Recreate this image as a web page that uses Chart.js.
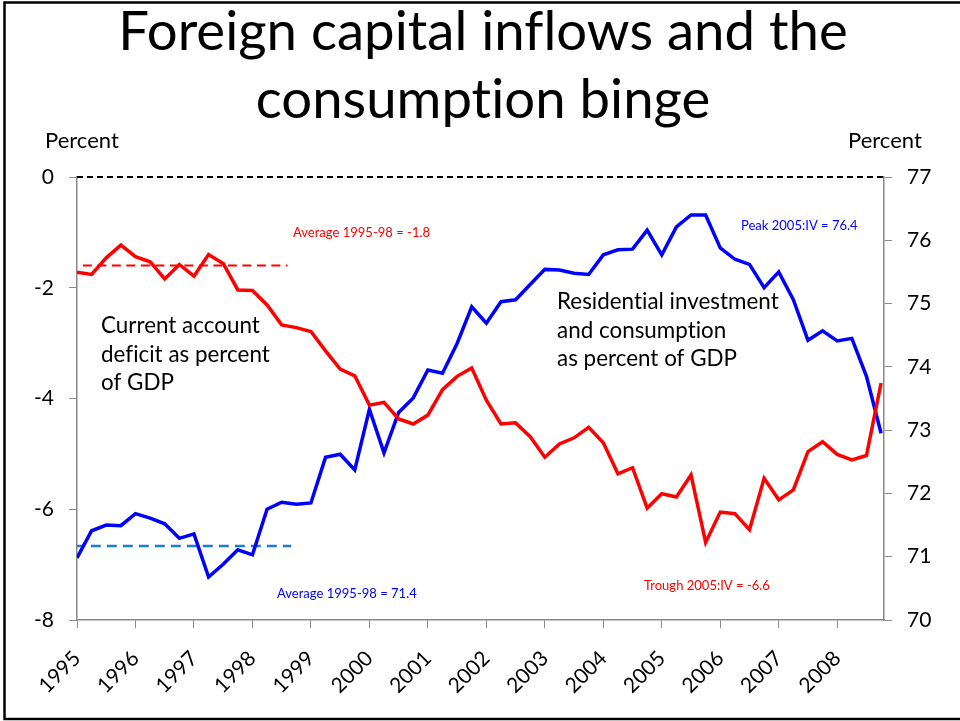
<!DOCTYPE html>
<html lang="en">
<head>
<meta charset="UTF-8">
<title>Foreign capital inflows and the consumption binge</title>
<script src="https://cdn.jsdelivr.net/npm/chart.js"></script>
<style>
  body { margin: 0; background: #fff; }
  #wrap { width: 960px; height: 721px; }
</style>
</head>
<body>
<div id="wrap"><canvas id="myChart" width="960" height="721"></canvas></div>
<script>
// quarterly data, 1995:I .. 2008:IV
const yearTicks = [1995, 1996, 1997, 1998, 1999, 2000, 2001, 2002, 2003, 2004, 2005, 2006, 2007, 2008];

// current account balance, percent of GDP (left axis)
const currentAccount = [
  -1.72, -1.76, -1.46, -1.23, -1.44, -1.53, -1.84, -1.58,
  -1.79, -1.40, -1.56, -2.04, -2.05, -2.31, -2.67, -2.72,
  -2.79, -3.14, -3.47, -3.59, -4.12, -4.07, -4.37, -4.46,
  -4.30, -3.84, -3.60, -3.45, -4.03, -4.46, -4.44, -4.69,
  -5.06, -4.82, -4.71, -4.52, -4.80, -5.36, -5.25, -5.98,
  -5.72, -5.78, -5.38, -6.60, -6.05, -6.08, -6.37, -5.44,
  -5.83, -5.65, -4.96, -4.78, -5.01, -5.11, -5.03, -3.72
];

// residential investment + consumption, percent of GDP (right axis)
const consumptionShare = [
  70.98, 71.41, 71.50, 71.49, 71.68, 71.61, 71.52, 71.29,
  71.36, 70.68, 70.88, 71.11, 71.03, 71.75, 71.86, 71.83,
  71.85, 72.57, 72.62, 72.37, 73.33, 72.64, 73.28, 73.51,
  73.95, 73.90, 74.37, 74.95, 74.69, 75.03, 75.06, 75.30,
  75.54, 75.53, 75.48, 75.46, 75.77, 75.85, 75.86, 76.16,
  75.77, 76.21, 76.40, 76.40, 75.88, 75.70, 75.62, 75.25,
  75.50, 75.06, 74.42, 74.57, 74.41, 74.45, 73.85, 72.95
];

// 1995-98 averages as drawn
const avgCurrentAccount = -1.6;
const avgConsumption = 71.17;

const FONT = 'Lato, "Open Sans", sans-serif';

const toPoints = arr => arr.map((v, i) => ({ x: i, y: v }));

// frame + title + text notes
const notes = {
  id: 'notes',
  beforeDraw(chart) {
    const c = chart.ctx;
    c.save();
    c.fillStyle = '#fff';
    c.fillRect(0, 0, chart.width, chart.height);
    c.restore();
  },
  afterDraw(chart) {
    const c = chart.ctx;
    c.save();
    c.strokeStyle = '#000';
    c.lineWidth = 2.5;
    c.strokeRect(4.5, 2.5, 1000, 716.5);

    c.letterSpacing = '0.01px'; // keeps Lato from joining "ti"
    c.fillStyle = '#000';
    c.textAlign = 'center';
    c.textBaseline = 'alphabetic';
    c.font = '54.5px ' + FONT;
    c.fillText('Foreign capital inflows and the', 483, 50);
    c.fillText('consumption binge', 483, 118);

    c.font = '22px ' + FONT;
    c.textAlign = 'left';
    c.fillText('Percent', 45, 148);
    c.fillText('Percent', 848, 148);

    c.font = '22.4px ' + FONT;
    ['Current account', 'deficit as percent', 'of GDP'].forEach((t, i) => c.fillText(t, 101, 333 + i * 28.7));
    ['Residential investment', 'and consumption', 'as percent of GDP'].forEach((t, i) => c.fillText(t, 557, 309 + i * 28.7));

    c.font = '13px ' + FONT;
    c.fillStyle = '#ff0000';
    c.fillText('Average 1995-98 = -1.8', 293, 237);
    c.fillText('Trough 2005:IV = -6.6', 644, 590);
    c.fillStyle = '#0000ff';
    c.fillText('Peak 2005:IV = 76.4', 741, 230);
    c.fillText('Average 1995-98 = 71.4', 277, 598);
    c.restore();
  }
};

const axisGrey = '#8a8a8a';
const tickFont = { family: FONT, size: 21 };

new Chart(document.getElementById('myChart').getContext('2d'), {
  type: 'line',
  data: {
    datasets: [
      {
        label: 'Current account',
        data: toPoints(currentAccount),
        yAxisID: 'yL',
        borderColor: '#ff0000',
        borderWidth: 3.5,
        pointRadius: 0,
        tension: 0,
        order: 1
      },
      {
        label: 'Residential investment and consumption',
        data: toPoints(consumptionShare),
        yAxisID: 'yR',
        borderColor: '#0000ff',
        borderWidth: 3.5,
        pointRadius: 0,
        tension: 0,
        order: 2
      },
      {
        label: 'Average CA',
        data: [{ x: 0.4, y: avgCurrentAccount }, { x: 14.4, y: avgCurrentAccount }],
        yAxisID: 'yL',
        borderColor: '#ff0000',
        borderWidth: 2,
        borderDash: [9, 5.5],
        pointRadius: 0,
        order: 3
      },
      {
        label: 'Average consumption',
        data: [{ x: -0.15, y: avgConsumption }, { x: 14.65, y: avgConsumption }],
        yAxisID: 'yR',
        borderColor: '#1f7bd0',
        borderWidth: 2.5,
        borderDash: [10, 6],
        pointRadius: 0,
        order: 3
      },
      {
        label: 'zero',
        data: [{ x: 0, y: 0 }, { x: 55.2, y: 0 }],
        yAxisID: 'yL',
        borderColor: '#000',
        borderWidth: 2,
        borderDash: [6, 4],
        pointRadius: 0,
        clip: false,
        order: 0
      }
    ]
  },
  options: {
    responsive: false,
    animation: false,
    layout: { padding: { top: 177, left: 0, right: 0, bottom: 0 } },
    plugins: {
      legend: { display: false },
      tooltip: { enabled: false }
    },
    scales: {
      x: {
        type: 'linear',
        min: 0,
        max: 55.2,
        afterBuildTicks: s => { s.ticks = yearTicks.map((y, i) => ({ value: i * 4 })); },
        afterFit: s => { s.height = 101; },
        grid: { drawOnChartArea: false, drawTicks: true, tickLength: 8, color: axisGrey },
        border: { color: axisGrey, width: 1.5 },
        ticks: {
          font: tickFont,
          color: '#000',
          autoSkip: false,
          minRotation: 45,
          maxRotation: 45,
          padding: 18,
          callback: v => String(yearTicks[Math.round(v / 4)])
        }
      },
      yL: {
        position: 'left',
        min: -8,
        max: 0,
        afterFit: s => { s.width = 77; },
        grid: { drawOnChartArea: false, tickLength: 8, color: axisGrey },
        border: { color: axisGrey, width: 1.5 },
        ticks: { stepSize: 2, font: tickFont, color: '#000', padding: 15 }
      },
      yR: {
        position: 'right',
        min: 70,
        max: 77,
        afterFit: s => { s.width = 76; },
        grid: { drawOnChartArea: false, tickLength: 8, color: axisGrey },
        border: { color: axisGrey, width: 1.5 },
        ticks: { stepSize: 1, font: tickFont, color: '#000', padding: 15 }
      }
    }
  },
  plugins: [notes]
});
</script>
</body>
</html>
